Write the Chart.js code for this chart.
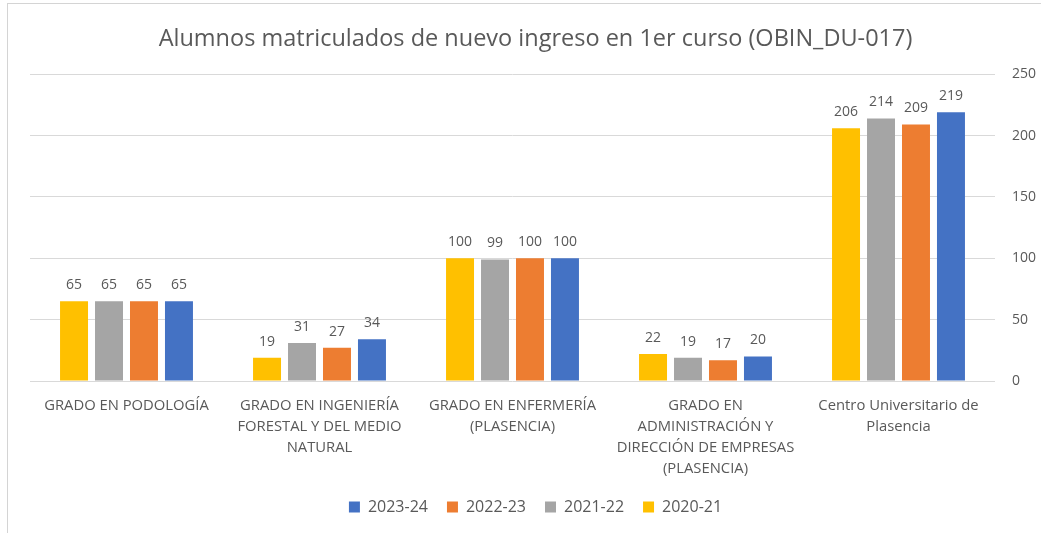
<!DOCTYPE html>
<html>
<head>
<meta charset="utf-8">
<script src="https://cdn.jsdelivr.net/npm/chart.js@4/dist/chart.umd.min.js"></script>
<style>
    body { margin: 0; background: #fff; }
    #frame { position: absolute; left: 7px; top: 3px; width: 1100px; height: 600px; border: 1px solid #d4d4d4; }
    #wrap { position: absolute; left: 0; top: 0; width: 1041px; height: 533px; }
</style>
</head>
<body>
<div id="frame"></div>
<div id="wrap"><canvas id="chart"></canvas></div>
<script>
// Chart data
const categories = [
    ['GRADO EN PODOLOGÍA'],
    ['GRADO EN INGENIERÍA', 'FORESTAL Y DEL MEDIO', 'NATURAL'],
    ['GRADO EN ENFERMERÍA', '(PLASENCIA)'],
    ['GRADO EN', 'ADMINISTRACIÓN Y', 'DIRECCIÓN DE EMPRESAS', '(PLASENCIA)'],
    ['Centro Universitario de', 'Plasencia']
];
const years = ['2020-21', '2021-22', '2022-23', '2023-24'];
const values2020 = [65, 19, 100, 22, 206];
const values2021 = [65, 31, 99, 19, 214];
const values2022 = [65, 27, 100, 17, 209];
const values2023 = [65, 34, 100, 20, 219];
const yTicks = [0, 50, 100, 150, 200, 250];

const colors = ['#FFC000', '#A5A5A5', '#ED7D31', '#4472C4'];
const textColor = '#595959';
const fontFamily = '"Open Sans", "Liberation Sans", sans-serif';

// Simple value labels above each bar
const valueLabels = {
    id: 'valueLabels',
    afterDatasetsDraw(chart) {
        const ctx = chart.ctx;
        ctx.save();
        ctx.font = '14px ' + fontFamily;
        ctx.fillStyle = textColor;
        ctx.textAlign = 'center';
        ctx.textBaseline = 'bottom';
        chart.data.datasets.forEach((ds, i) => {
            chart.getDatasetMeta(i).data.forEach((bar, j) => {
                ctx.fillText(ds.data[j], bar.x, bar.y - 9);
            });
        });
        ctx.restore();
    }
};

const seriesValues = [values2020, values2021, values2022, values2023];

new Chart(document.getElementById('chart'), {
    type: 'bar',
    data: {
        labels: categories,
        datasets: years.map((y, i) => ({
            label: y,
            data: seriesValues[i],
            backgroundColor: colors[i],
            categoryPercentage: 0.725,
            barPercentage: 0.8
        }))
    },
    options: {
        responsive: true,
        maintainAspectRatio: false,
        animation: false,
        layout: { padding: { left: 30, right: 0, top: 0, bottom: 8 } },
        scales: {
            x: {
                grid: { display: false },
                border: { display: false },
                afterFit: axis => { axis.height = 99; },
                ticks: {
                    color: textColor,
                    font: { family: fontFamily, size: 14.8, lineHeight: 1.42 },
                    maxRotation: 0,
                    autoSkip: false,
                    padding: 6
                }
            },
            y: {
                position: 'right',
                min: 0,
                max: 250,
                afterBuildTicks: axis => { axis.ticks = yTicks.map(v => ({ value: v })); },
                afterFit: axis => { axis.width = 46; },
                grid: { color: '#d9d9d9', drawTicks: false },
                border: { display: false },
                ticks: {
                    color: textColor,
                    font: { family: fontFamily, size: 14 },
                    padding: 17
                }
            }
        },
        plugins: {
            title: {
                display: true,
                text: 'Alumnos matriculados de nuevo ingreso en 1er curso (OBIN_DU-017)',
                color: textColor,
                font: { family: fontFamily, size: 23.5, weight: 'normal' },
                padding: { top: 25, bottom: 21 }
            },
            legend: {
                position: 'bottom',
                reverse: true,
                labels: {
                    color: textColor,
                    font: { family: fontFamily, size: 16 },
                    boxWidth: 11,
                    boxHeight: 11,
                    padding: 19
                }
            },
            tooltip: { enabled: false }
        }
    },
    plugins: [valueLabels]
});
</script>
</body>
</html>
